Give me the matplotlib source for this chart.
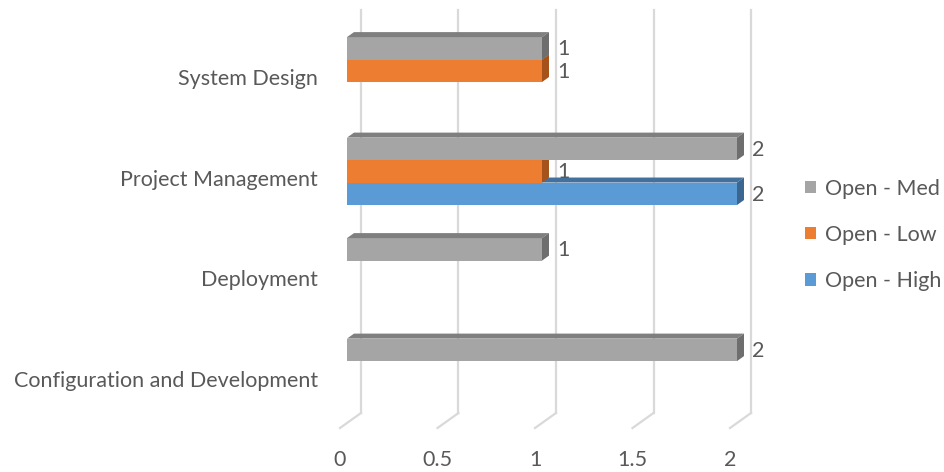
import numpy as np
import matplotlib
matplotlib.use("Agg")
import matplotlib.pyplot as plt
from matplotlib.patches import Polygon, Patch

plt.rcParams['font.family'] = ['Lato', 'DejaVu Sans']

# data
categories = ["Configuration and Development", "Deployment", "Project Management", "System Design"]
series_names = ["Open - High", "Open - Low", "Open - Med"]
open_high = [np.nan, np.nan, 2, np.nan]
open_low = [np.nan, np.nan, 1, 1]
open_med = [2, 1, 2, 1]
x_ticks = [0, 0.5, 1, 1.5, 2]
x_tick_labels = ["0", "0.5", "1", "1.5", "2"]

# colours: front, top, side
colors = {
    "Open - High": ("#5B9BD5", "#41719C", "#3A6690"),
    "Open - Low": ("#ED7D31", "#C0622A", "#A5531B"),
    "Open - Med": ("#A5A5A5", "#7F7F7F", "#6E6E6E"),
}
text_color = "#595959"
grid_color = "#D9D9D9"
fs = 15.5

W, H = 944, 472
fig = plt.figure(figsize=(W / 100, H / 100), dpi=100)
ax = fig.add_axes([0, 0, 1, 1])

# pixel layout -> data units
px_x = 195.0     # px per value unit
px_y = 100.5     # px per category slot
x0_px, y0_px = 347, 379
ax.set_xlim(-x0_px / px_x, (W - x0_px) / px_x)
ax.set_ylim((y0_px - H) / px_y, y0_px / px_y)
ax.axis("off")

# back wall gridlines and floor edges
back_dx = 14 / px_x
grid_top = (y0_px - 10) / px_y
grid_bot = (y0_px - 413) / px_y
floor_dx = -7 / px_x
floor_y = (y0_px - 428) / px_y
for v, lab in zip(x_ticks, x_tick_labels):
    ax.plot([v + back_dx, v + back_dx], [grid_bot, grid_top], color=grid_color, lw=1.6, zorder=0)
    ax.plot([v + back_dx, v + floor_dx], [grid_bot, floor_y], color=grid_color, lw=1.6, zorder=0)
    ax.text(v + floor_dx, (y0_px - 460) / px_y, lab, ha="center", va="center",
            fontsize=fs, color=text_color)

ypos = np.arange(len(categories))
for y, c in zip(ypos, categories):
    ax.text((318 - x0_px) / px_x, y - 2 / px_y, c, ha="right", va="center", fontsize=fs,
            color=text_color)

bar_h = 22.5 / px_y
offsets = [-0.157, 0.067, 0.29]
dx = 7 / px_x
dy = 5 / px_y
series_values = [open_high, open_low, open_med]
z = 2
for name, vals, off in zip(series_names, series_values, offsets):
    front, top, side = colors[name]
    for y, v in zip(ypos, vals):
        if np.isnan(v):
            continue
        yc = y + off
        yb, yt = yc - bar_h / 2, yc + bar_h / 2
        ax.barh(yc, v, height=bar_h, color=front, zorder=z)
        ax.add_patch(Polygon([[0, yt], [v, yt], [v + dx, yt + dy], [dx, yt + dy]],
                             closed=True, facecolor=top, edgecolor="none", zorder=z))
        ax.add_patch(Polygon([[v, yb], [v + dx, yb + dy], [v + dx, yt + dy], [v, yt]],
                             closed=True, facecolor=side, edgecolor="none", zorder=z))
        ax.text(v + dx + 8 / px_x, yc - 1 / px_y, f"{v:g}", ha="left", va="center",
                fontsize=fs, color=text_color, zorder=z + 5)
        z += 1

handles = [Patch(facecolor=colors[n][0]) for n in series_names[::-1]]
fig.legend(handles, series_names[::-1], loc="center left", bbox_to_anchor=(805 / W, 1 - 235 / H),
           frameon=False, fontsize=fs, labelcolor=text_color, handlelength=0.5, handleheight=0.5,
           handletextpad=0.45, labelspacing=1.22, borderpad=0, borderaxespad=0)

fig.savefig("out.png", dpi=100)
